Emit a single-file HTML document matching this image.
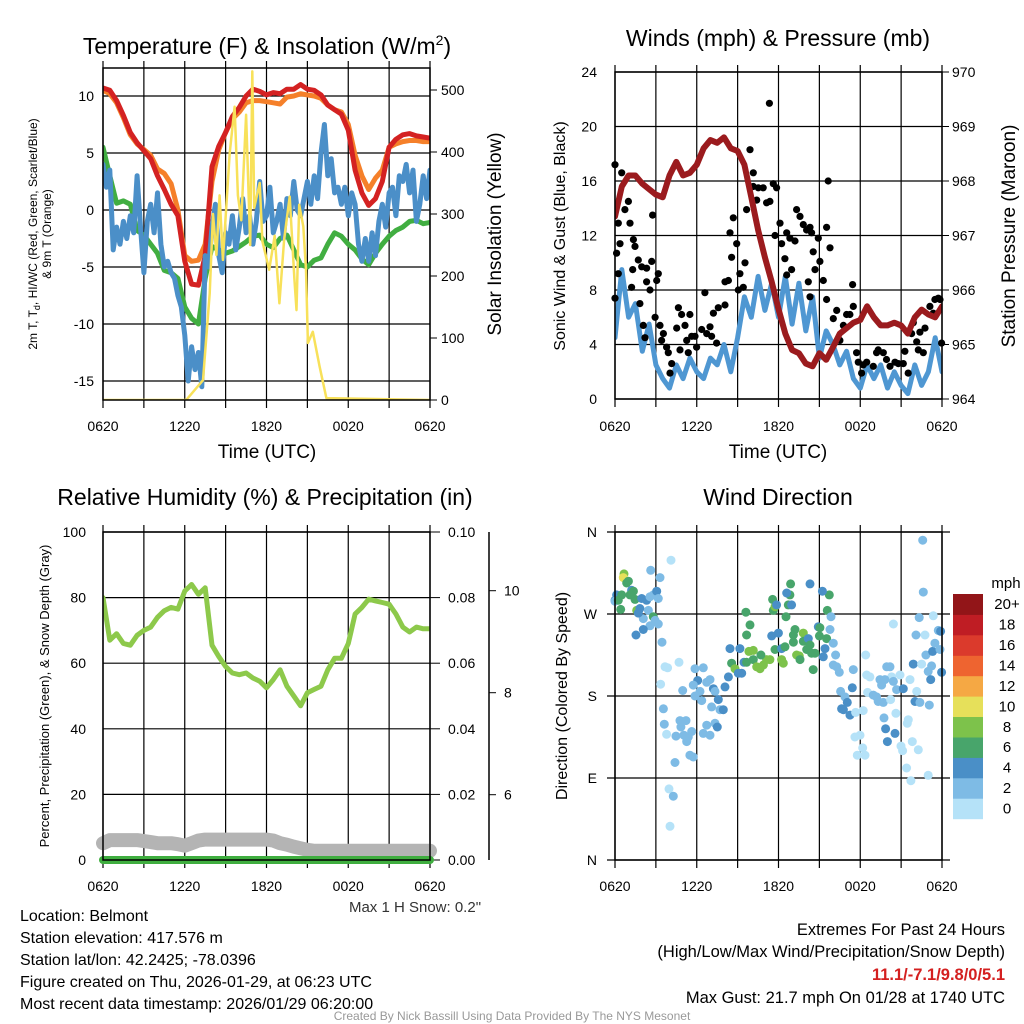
<!DOCTYPE html>
<html><head><meta charset="utf-8"><style>
html,body{margin:0;padding:0;background:#fff;}
svg{display:block;font-family:"Liberation Sans",sans-serif;}
</style></head><body>
<svg id="s" width="1024" height="1024" viewBox="0 0 1024 1024" xmlns="http://www.w3.org/2000/svg">
<rect width="1024" height="1024" fill="#fff"/>
<g id="g"></g>
<text x="267" y="54" font-size="23" text-anchor="middle">Temperature (F) &amp; Insolation (W/m<tspan font-size="14" dy="-9">2</tspan><tspan dy="9">)</tspan></text>
<text x="778" y="46" font-size="23" text-anchor="middle">Winds (mph) &amp; Pressure (mb)</text>
<text x="265" y="505" font-size="23" text-anchor="middle">Relative Humidity (%) &amp; Precipitation (in)</text>
<text x="778" y="505" font-size="23" text-anchor="middle">Wind Direction</text>
<text x="267" y="458" font-size="19" text-anchor="middle">Time (UTC)</text>
<text x="778" y="458" font-size="19" text-anchor="middle">Time (UTC)</text>
<text transform="translate(37,234) rotate(-90)" font-size="12" text-anchor="middle">2m T, T<tspan font-size="9" dy="3">d</tspan><tspan dy="-3">, HI/WC (Red, Green, Scarlet/Blue)</tspan></text>
<text transform="translate(51,234) rotate(-90)" font-size="12" text-anchor="middle">&amp; 9m T (Orange)</text>
<text transform="translate(501,234) rotate(-90)" font-size="19" text-anchor="middle">Solar Insolation (Yellow)</text>
<text transform="translate(565,236) rotate(-90)" font-size="16" text-anchor="middle">Sonic Wind &amp; Gust (Blue, Black)</text>
<text transform="translate(1015,236) rotate(-90)" font-size="19" text-anchor="middle">Station Pressure (Maroon)</text>
<text transform="translate(49,696) rotate(-90)" font-size="13" text-anchor="middle">Percent, Precipitation (Green), &amp; Snow Depth (Gray)</text>
<text transform="translate(567,696) rotate(-90)" font-size="16" text-anchor="middle">Direction (Colored By Speed)</text>
<text x="415" y="912" font-size="15" text-anchor="middle" fill="#333">Max 1 H Snow: 0.2"</text>
<g font-size="16">
<text x="20" y="921">Location: Belmont</text>
<text x="20" y="943">Station elevation: 417.576 m</text>
<text x="20" y="965">Station lat/lon: 42.2425; -78.0396</text>
<text x="20" y="987">Figure created on Thu, 2026-01-29, at 06:23 UTC</text>
<text x="20" y="1009">Most recent data timestamp: 2026/01/29 06:20:00</text>
</g>
<g font-size="16.5" text-anchor="end">
<text x="1005" y="935">Extremes For Past 24 Hours</text>
<text x="1005" y="957">(High/Low/Max Wind/Precipitation/Snow Depth)</text>
<text x="1005" y="980" font-weight="bold" fill="#d42020">11.1/-7.1/9.8/0/5.1</text>
<text x="1005" y="1003">Max Gust: 21.7 mph On 01/28 at 1740 UTC</text>
</g>
<text x="512" y="1020" font-size="12" fill="#999" text-anchor="middle">Created By Nick Bassill Using Data Provided By The NYS Mesonet</text>
</svg>
<script>
const timeLabels = ["0620","1220","1820","0020","0620"];
const tempF = [10.7,10.5,9.6,8.3,6.8,5.9,5.2,4.5,3,1.8,0.5,-0.5,-4.5,-6.5,-6.6,-4,3.8,5.6,6.8,8.2,9,10,10.6,10.4,10.1,10.3,10.2,10.6,10.6,11,10.6,10.5,10.1,9.2,8.8,8.4,7,3.5,1.5,0.4,1,2.5,5.5,6.2,6.6,6.7,6.5,6.4,6.3];
const temp9mF = [10.5,10.2,9.4,8.1,6.6,5.8,5.3,4.8,3.6,3.2,2.3,0,-4,-4.5,-4.4,-3,2.5,5.3,6.8,8,8.6,9.4,9.6,9.6,9.5,9.4,9.3,9.9,10,10.2,10.1,10,9.8,9.2,8.8,8.6,7.5,4.8,3,1.8,2.8,3.5,5.5,5.8,6,6.1,6.1,6,6];
const dewpointF = [5.5,3,0.6,0.8,0.5,-1.8,-2.2,-3,-3.8,-5.3,-5.5,-6,-8.5,-9.5,-10,-6,-3.2,-3.5,-3.8,-3.6,-3.2,-2.8,-2.3,-2.2,-3,-3.3,-2.5,-2.2,-3.5,-4.8,-5,-4.4,-4.2,-3,-2,-2.3,-3,-3.5,-4.3,-4.8,-3.8,-3,-2.3,-1.8,-1.5,-1,-0.9,-1.2,-1.1];
const windChillF = [4,2,3.5,-3.5,-1.5,-3,-1,-2.5,-0.5,-2,3,-1.5,-5.5,-1,0.5,-2,1.5,-3,-5,-4.5,-5.5,-6,-7.5,-8.5,-11,-15,-12,-14,-12.5,-15.5,-4,-5,-1.5,0.5,-4,-5.5,-2,-3,-0.5,-3.5,-1.5,1,-2,-0.5,-3,-1,2.5,-1,-0.5,2,-2,-1,0.5,-2.5,1,-0.5,2.5,0,-0.5,1,2.5,0.5,3,1,5,7.5,3,4.5,1.5,2,0.5,2,-0.5,1.5,0.5,-3,-4.5,-2.5,-4.5,-2,-4,-1,0.5,-1.5,1.5,2,-0.5,3,2.5,4,1.5,3.5,-1,0.5,3,1,3.5];
const solarHours = [0,6.11,7.34,7.83,8.07,8.32,8.56,8.8,9.3,9.66,9.9,10.15,10.5,10.8,10.96,11.1,11.5,11.7,12.2,12.6,12.95,13.3,13.7,14.05,14.2,14.4,14.7,14.9,15.04,15.4,15.9,16.4,24];
const solarWm2 = [0,0,32,172,300,234,330,226,398,473,330,290,460,250,530,310,350,256,210,265,156,260,328,195,145,315,280,210,92,110,54,3,0];
const windMph = [4.5,9.5,6,7,3.5,5.5,2.5,1.5,0.8,2.5,1.5,3,2,1.5,3,2.5,4,2,4.5,7.5,6,9,6.5,8.5,6,9,5.5,8.5,5,7.5,3,5,4,2.5,3.5,1.5,0.8,2.5,1.5,2.5,0.8,2,1,0.4,2.5,1,2,4.5,2];
const pressureMb = [967.35,967.9,968.1,968.1,967.95,967.85,967.75,967.7,968.1,968.35,968.1,968.15,968.3,968.6,968.75,968.7,968.8,968.6,968.55,968.3,967.7,967.1,966.6,966.15,965.65,965.2,964.9,964.84,964.65,964.6,964.84,964.72,964.95,965.2,965.3,965.4,965.45,965.7,965.5,965.35,965.35,965.4,965.35,965.2,965.5,965.64,965.55,965.5,965.7];
const gustHours = [0,0,0.24,0.12,0.49,0.73,0.98,0.37,1.1,0.24,1.35,1.47,1.3,1.22,1.71,1.96,1.83,2.32,2.32,2.57,2.69,2.76,3.06,3.18,2.94,2.08,2.2,3.3,3.42,3.55,3.79,3.91,4.16,4.04,4.65,4.89,4.53,5.14,5.5,5.26,5.38,4.77,5.63,5.99,5.87,6.6,6.36,6.73,6.97,7.22,7.58,7.46,7.09,8.07,8.07,8.32,8.44,8.68,8.56,8.93,9.05,9.17,9.42,9.54,9.66,9.91,10.15,10.15,10.4,10.52,10.88,11.13,11.33,11.37,11.62,11.74,11.86,12.11,12.23,12.47,12.6,12.6,12.96,12.84,13.21,13.33,13.58,13.82,14.06,14.31,14.43,14.55,14.68,14.92,15.04,15.29,15.53,15.65,15.78,15.53,14.19,14.31,16.02,16.27,16.51,16.76,17.0,17.24,17.44,17.49,17.73,17.86,18.22,18.1,18.47,18.96,19.2,19.32,19.69,19.93,20.18,20.55,20.79,21.16,21.28,21.52,21.77,21.89,22.14,22.26,22.38,22.63,22.75,23.11,23.36,23.48,23.73,23.97,23.85];
const gustMph = [17.2,7.4,12.9,10.7,16.6,13.9,14.5,11.4,12.9,9.2,11.7,11.2,9.5,8.2,10.2,9.7,7.0,9.6,8.6,8.0,10.1,13.5,8.7,9.2,6.0,5.4,4.5,5.4,4.3,4.8,3.8,3.4,2.6,1.9,6.7,6.2,5.2,5.4,6.2,4.3,3.4,3.6,4.6,3.8,4.6,7.8,5.1,4.8,5.3,6.3,6.7,4.1,4.6,6.9,8.6,8.7,12.2,13.3,10.4,11.4,8.0,9.2,8.2,10.0,13.9,18.3,16.6,15.6,14.6,15.5,15.5,14.4,21.7,14.5,15.8,12.0,15.5,12.9,11.4,10.3,9.1,12.2,9.5,11.8,11.6,13.9,13.4,12.8,12.4,12.6,12.2,10.8,9.5,11.8,10.1,8.7,12.6,16.0,11.1,7.3,8.6,7.5,5.9,6.5,4.3,5.4,6.2,6.2,8.4,6.8,3.4,2.7,2.5,1.9,2.7,2.4,3.4,3.6,3.4,2.9,2.4,2.7,2.6,2.6,3.5,1.9,4.8,5.6,4.2,3.6,4.9,3.4,5.2,6.8,6.3,7.3,7.4,4.1,7.3];
const rhPct = [80,67,69,66,65.5,68.5,70,71,74,76,77,76.5,82,84,81,83,65.5,62,59,57,56.5,57,55.5,54.5,52.5,55,58,53,50,47,51,52,53,58,61.5,61.5,66,75,77,79.5,79,78.5,78,75,71,69.5,71,70.5,70.5];
const precipIn = [0,0,0,0,0,0,0,0,0,0,0,0,0,0,0,0,0,0,0,0,0,0,0,0,0,0,0,0,0,0,0,0,0,0,0,0,0,0,0,0,0,0,0,0,0,0,0,0,0];
const snowDepthIn = [5.05,5.11,5.11,5.11,5.11,5.11,5.09,5.07,5.05,5.05,5.05,5.03,5.0,5.05,5.1,5.12,5.12,5.12,5.12,5.12,5.12,5.12,5.12,5.12,5.12,5.1,5.05,5.02,4.98,4.95,4.92,4.9,4.9,4.9,4.9,4.9,4.9,4.9,4.9,4.9,4.9,4.9,4.9,4.9,4.9,4.9,4.9,4.9,4.9];
const dirHours = [0,0.12,0,0.24,0.49,0.42,0.66,0.61,0.86,0.98,1.22,1.35,1.1,1.47,1.96,2.32,2.57,1.59,1.83,2.08,1.71,2.45,2.81,3.06,3.18,2.81,2.94,2.57,2.08,1.54,3.18,2.62,3.3,3.45,4.11,3.67,3.86,4.7,3.35,3.55,3.62,3.79,4.77,5.21,4.84,4.48,5.06,5.38,5.63,5.26,5.5,5.75,4.4,3.96,4.28,4.04,4.97,5.87,6.48,6.07,5.75,6.24,6.73,6.97,7.22,5.87,6.36,7.34,7.58,7.09,7.71,7.95,6.73,7.34,7.51,6.48,6.97,8.07,8.32,8.44,9.17,8.56,8.81,9.05,9.3,9.47,9.66,9.83,10.15,10.15,10.4,10.64,10.89,11.13,11.37,10.71,9.66,9.91,9.61,11.5,11.74,11.99,12.23,12.23,12.35,12.48,11.62,11.74,11.57,11.86,12.55,12.72,12.84,12.6,12.96,12.89,13.09,13.21,13.09,13.33,13.53,13.58,13.82,13.82,14.07,14.19,14.31,14.43,14.55,14.68,14.92,15.0,15.04,15.29,15.41,15.53,15.58,15.73,15.22,14.31,15.85,15.78,16.02,16.19,16.02,16.27,16.46,17.49,17.42,16.56,16.88,17.05,16.63,16.76,17.25,17.66,18.22,18.54,18.4,18.47,18.71,18.96,19.2,19.45,19.32,19.69,19.57,19.94,20.18,20.3,19.81,20.43,20.92,20.67,20.23,20.62,21.16,21.65,22.14,22.02,22.38,23.07,20.43,21.89,22.09,22.33,22.75,22.5,22.82,22.99,23.24,23.17,23.31,23.48,23.73,23.9,23.97,23.85,23.36,22.63,22.58,19.86,20.55,19.99,17.98,17.61,18.18,17.78,18.35,21.53,21.45,21.82,20.99,21.11,22.26,21.4,21.72,22.99,19.74];
const dirDegrees = [285,291,284,285,291,275,314,310,304,306,296,295,291,286,287,285,289,274,276,265,271,274,291,295,287,267,263,257,253,247,259,318,310,239,329,212,211,217,193,166,149,138,153,153,146,136,137,135,141,130,115,113,107,78,70,37,186,210,211,197,192,185,195,198,188,180,175,185,176,168,165,165,148,150,146,139,137,190,201,232,232,216,210,205,205,217,217,229,230,220,212,210,214,220,220,225,247,258,272,246,231,249,232,220,216,234,274,278,286,280,267,280,291,293,280,303,247,253,239,225,224,220,249,240,231,243,236,227,209,227,256,246,255,223,232,243,274,291,295,303,267,253,238,225,214,212,206,209,189,185,179,173,166,165,159,162,164,184,225,203,201,181,179,198,174,173,192,212,212,201,198,196,203,187,176,161,188,198,185,174,173,170,259,215,247,266,247,215,225,207,213,198,229,238,252,251,206,231,268,294,351,144,139,130,137,135,123,115,115,154,150,130,125,120,121,101,87,93,156];
const dirSpeedMph = [5,5,3,7,7,7,9,11,7,7,5,7,7,7,5,5,3,9,5,3,5,3,3,5,3,7,3,3,5,5,3,3,3,3,1,1,1,1,1,3,3,1,3,3,3,3,3,3,3,3,3,3,3,1,3,1,3,3,3,5,3,3,3,3,5,3,3,3,5,3,3,5,3,3,5,3,3,5,5,5,5,7,9,5,5,5,7,9,9,7,9,9,9,9,9,7,7,7,7,5,7,5,5,9,9,7,7,9,7,5,7,7,7,5,5,7,7,7,7,9,9,7,9,7,7,5,7,7,7,7,5,7,7,5,5,7,7,7,5,5,3,3,3,3,3,3,3,3,5,3,3,5,5,5,5,1,1,1,1,1,1,3,3,3,3,3,3,3,3,1,3,3,1,3,1,1,5,1,1,5,3,3,1,5,3,3,1,1,3,3,3,5,5,3,3,5,5,3,1,3,3,5,5,5,1,1,1,1,1,1,1,1,1,1,1,1,1,1,3];
const speedBinLabels = ["0","2","4","6","8","10","12","14","16","18","20+"];
const speedBinColors = ["#b5e2f8","#7ebbe5","#4a8fc7","#48a56b","#7dc24b","#e6e05a","#f5a844","#ee6430","#db3a2c","#bf1d24","#921518"];
const tempTicks = [10,5,0,-5,-10,-15];
const solarTicks = [0,100,200,300,400,500];
const windTicks = [0,4,8,12,16,20,24];
const pressTicks = [964,965,966,967,968,969,970];
const rhTicks = [0,20,40,60,80,100];
const precipTicks = [0,0.02,0.04,0.06,0.08,0.10];
const snowTicks = [6,8,10];
const dirTicks = ["N","E","S","W","N"];

const PW = 327;
const x1 = h => 103 + h * PW / 24;
const yT = v => 210 - v * 11.4;
const yS = w => 400 - w * 0.62;
const x2 = h => 615 + h * PW / 24;
const yW = v => 399 - v * 327 / 24;
const yP = p => 399 - (p - 964) * 54.5;
const yR = v => 860 - v * 3.28;
const yPr = v => 860 - v * 3280;
const ySn = v => 590.7 - (v - 10) * 51;
const yD = d => 860 - d * 328 / 360;

const NS = "http://www.w3.org/2000/svg";
const G = document.getElementById("g");
function mk(tag, attrs, parent) {
  const e = document.createElementNS(NS, tag);
  for (const k in attrs) e.setAttribute(k, attrs[k]);
  (parent || G).appendChild(e);
  return e;
}
function txt(x, y, s, size, anchor) {
  const t = mk("text", {x: x, y: y, "font-size": size || 14, "text-anchor": anchor || "middle"});
  t.textContent = s;
  
  
  return t;
}
function line(xa, ya, xb, yb, col, w) {
  const l = mk("line", {x1: xa, y1: ya, x2: xb, y2: yb, stroke: col || "#000", "stroke-width": w || 1});
  
  
  return l;
}
function path(xs, ys, xf, yf, col, w, name, clip) {
  let d = "";
  for (let i = 0; i < xs.length; i++) d += (i ? "L" : "M") + xf(xs[i]).toFixed(1) + "," + yf(ys[i]).toFixed(1);
  const p = mk("path", {d: d, fill: "none", stroke: col, "stroke-width": w, "stroke-linejoin": "round", "stroke-linecap": "round"});
  if (clip) p.setAttribute("clip-path", "url(#" + clip + ")");
  
  
  return p;
}
const halfHours = tempF.map((_, i) => i * 0.5);
const quarterHours = windChillF.map((_, i) => i * 0.25);

const defs = mk("defs", {});
[["c1",103,68,332],["c2",615,72,327],["c3",103,532,328],["c4",615,532,328]].forEach(c => {
  const cp = mk("clipPath", {id: c[0]}, defs);
  mk("rect", {x: c[1], y: c[2], width: PW, height: c[3]}, cp);
});

function grid(top, bot, xf) {
  for (let k = 0; k <= 8; k++) {
    const X = xf(k * 3);
    line(X, top - 7, X, bot + 8, "#000", 1.2);
  }
}

// Panel 1
grid(68, 400, x1);
tempTicks.forEach(v => { line(103, yT(v), 430, yT(v), "#000", 1.2); txt(94, yT(v) + 5, String(v), 14, "end"); });
solarTicks.forEach(v => { line(430, yS(v), 437, yS(v)); txt(441, yS(v) + 5, String(v), 14, "start"); });
timeLabels.forEach((s, i) => txt(x1(i * 6), 431, s, 14));
path(halfHours, temp9mF, x1, yT, "#f5802a", 5, "temp-9m-line", "c1");
path(halfHours, tempF, x1, yT, "#d42222", 5, "temp-2m-line", "c1");
path(halfHours, dewpointF, x1, yT, "#41ae41", 5, "dewpoint-line", "c1");
path(quarterHours, windChillF, x1, yT, "#4b8fc8", 5, "windchill-line", "c1");
path(solarHours, solarWm2, x1, yS, "#f8e15a", 2.5, "solar-line", "c1");
mk("rect", {x: 103, y: 68, width: PW, height: 332, fill: "none", stroke: "#000", "stroke-width": 1.5});

// Panel 2
grid(72, 399, x2);
windTicks.forEach(v => { line(615, yW(v), 942, yW(v), "#000", 1.2); txt(597, yW(v) + 5, String(v), 14, "end"); });
pressTicks.forEach(v => { line(942, yP(v), 949, yP(v)); txt(952, yP(v) + 5, String(v), 14, "start"); });
timeLabels.forEach((s, i) => txt(x2(i * 6), 431, s, 14));
path(halfHours, windMph, x2, yW, "#4f97d2", 5, "sonic-wind-line", "c2");
gustHours.forEach((h, i) => {
  const c = mk("circle", {cx: x2(h).toFixed(1), cy: yW(gustMph[i]).toFixed(1), r: 3.6, fill: "#000"});
  
  
});
path(halfHours, pressureMb, x2, yP, "#9b1b1e", 6, "pressure-line", "c2");
mk("rect", {x: 615, y: 72, width: PW, height: 327, fill: "none", stroke: "#000", "stroke-width": 1.5});

// Panel 3
grid(532, 860, x1);
rhTicks.forEach(v => { line(103, yR(v), 430, yR(v), "#000", 1.2); txt(86, yR(v) + 5, String(v), 14, "end"); });
precipTicks.forEach(v => { line(430, yPr(v), 440, yPr(v)); txt(448, yPr(v) + 5, v.toFixed(2), 14, "start"); });
line(489, 532, 489, 860, "#000", 1.5);
snowTicks.forEach(v => { line(489, ySn(v), 496, ySn(v)); txt(504, ySn(v) + 5, String(v), 14, "start"); });
timeLabels.forEach((s, i) => txt(x1(i * 6), 891, s, 14));
path(halfHours, rhPct, x1, yR, "#8dc94b", 5, "humidity-line", "c3");
path(halfHours, snowDepthIn, x1, ySn, "#b4b4b4", 14, "snow-depth-line");
path(halfHours, precipIn, x1, yPr, "#3fae3f", 8, "precip-line");
mk("rect", {x: 103, y: 532, width: PW, height: 328, fill: "none", stroke: "#000", "stroke-width": 1.5});

// Panel 4
grid(532, 860, x2);
dirTicks.forEach((s, i) => { line(607, yD(i * 90), 950, yD(i * 90), "#000", 1.2); txt(597, yD(i * 90) + 5, s, 14, "end"); });
timeLabels.forEach((s, i) => txt(x2(i * 6), 891, s, 14));
function speedColor(v) { return speedBinColors[Math.min(10, Math.floor(v / 2))]; }
dirHours.forEach((h, i) => {
  const c = mk("circle", {cx: x2(h).toFixed(1), cy: yD(dirDegrees[i]).toFixed(1), r: 4.5, fill: speedColor(dirSpeedMph[i])});
  
  
});
mk("rect", {x: 615, y: 532, width: PW, height: 328, fill: "none", stroke: "#000", "stroke-width": 1.5});

const cbTop = 594, cbH = 224.7 / 11;
speedBinLabels.forEach((lab, i) => {
  const k = 10 - i;
  const r = mk("rect", {x: 953, y: (cbTop + k * cbH).toFixed(1), width: 30, height: (cbH + 0.5).toFixed(1), fill: speedBinColors[i]});
  
  
  txt(1007, cbTop + k * cbH + cbH / 2 + 5, lab, 15, "middle");
});
const mph = txt(1006, 588, "mph", 15, "middle");

</script>
</body></html>
